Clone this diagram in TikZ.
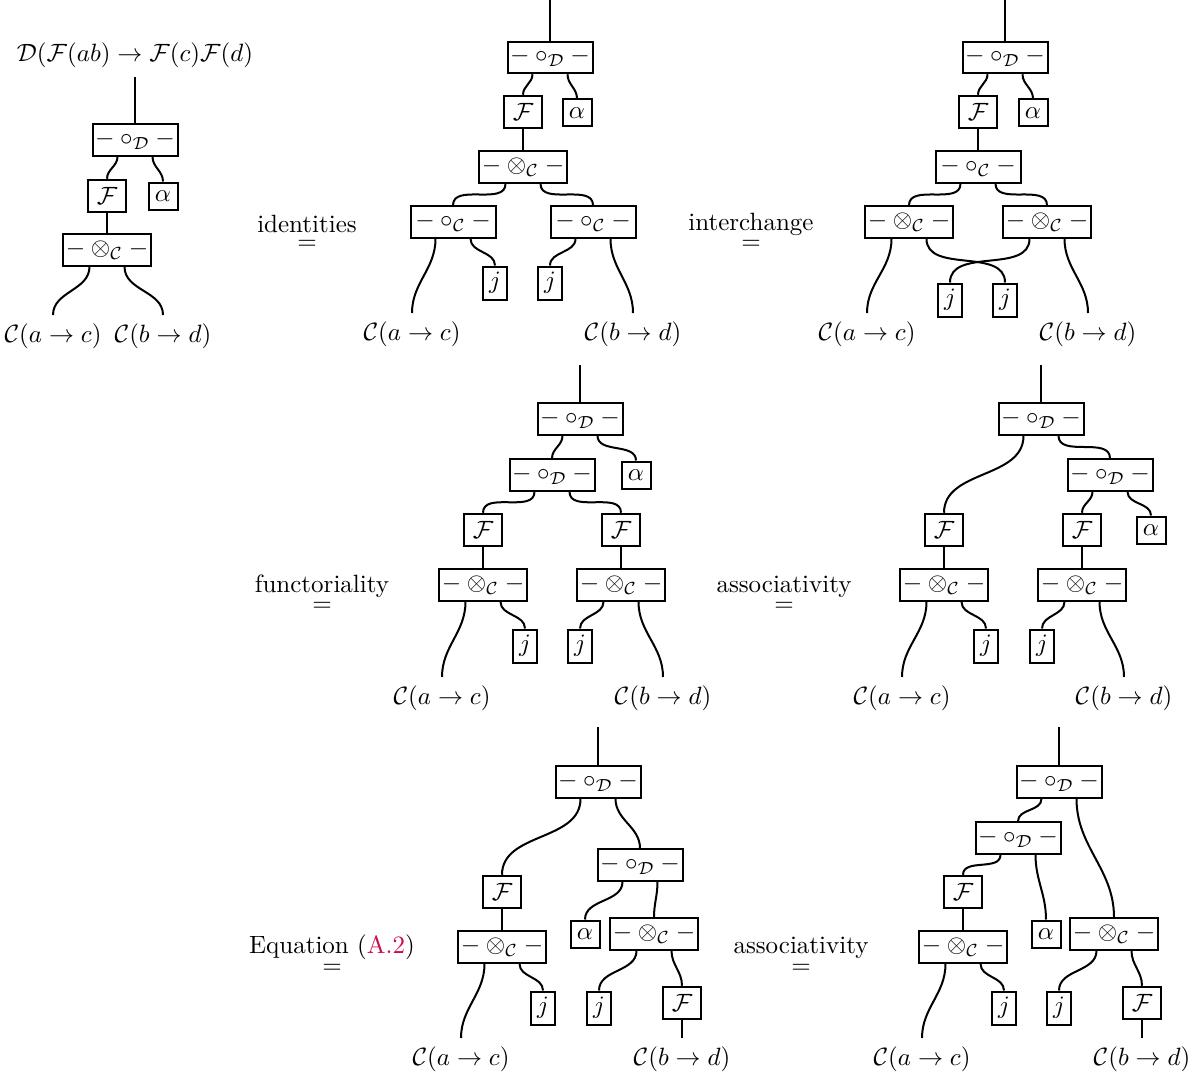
\documentclass[tikz,border=0pt]{standalone}
\usepackage{amsmath, amssymb}
\usepackage{xcolor}
\usepackage{tikz}
\usetikzlibrary{positioning}
\definecolor{linkred}{rgb}{0.8,0.05,0.3}
\newcommand{\compD}{$-\circ_{\mathcal{D}}-$}
\newcommand{\compC}{$-\circ_{\mathcal{C}}-$}
\newcommand{\tensC}{$-\otimes_{\mathcal{C}}-$}
\tikzset{
    wire/.style={thick, out=-90, in=90},
    opbox/.style={rectangle, draw=black, thick, fill=white, minimum width=34pt, minimum height=12.6pt, inner sep=1pt},
    funbox/.style={rectangle, draw=black, thick, fill=white, minimum width=15pt, minimum height=13pt, inner sep=1pt},
    natbox/.style={rectangle, draw=black, thick, fill=white, minimum width=11.6pt, minimum height=10.8pt, inner sep=1pt},
    unitbox/.style={rectangle, draw=black, thick, fill=white, minimum width=9.6pt, minimum height=13.2pt, inner sep=1pt},
    hom/.style={anchor=north},
    eqlabel/.style={anchor=base, align=center, inner sep=0pt},
    eqsign/.style={inner sep=0pt}
}
\begin{document}
\begin{tikzpicture}[x=0.4pt, y=-0.4pt]
        \useasboundingbox (0,0) rectangle (1199,1072);

        % Left-hand side
        \node[anchor=south] (top1) at (135,77) {$\mathcal{D}(\mathcal{F}(ab)\to\mathcal{F}(c)\mathcal{F}(d)$};
        \node[opbox] (a1) at (135,140) {\compD};
        \node[funbox] (a2) at (107,196) {$\mathcal{F}$};
        \node[natbox] (a3) at (163,196) {$\alpha$};
        \node[opbox] (a4) at (107,250) {\tensC};
        \node[hom] (a5) at (53,315) {$\mathcal{C}(a\to c)$};
        \node[hom] (a6) at (163,315) {$\mathcal{C}(b\to d)$};
        \draw[thick] (top1) -- (a1);
        \draw[wire] ([xshift=-7pt]a1.south) to (a2.north);
        \draw[wire] ([xshift=7pt]a1.south) to (a3.north);
        \draw[thick] (a2) -- (a4);
        \draw[wire] ([xshift=-7pt]a4.south) to (a5.north);
        \draw[wire] ([xshift=7pt]a4.south) to (a6.north);

        % identities
        \node[eqlabel] (l1) at (307,232) {identities};
        \node[eqsign] (e1) at (307,245) {$=$};
        \coordinate (b0) at (550,0);
        \node[opbox] (b1) at (550,57.5) {\compD};
        \node[funbox] (b2) at (523,112) {$\mathcal{F}$};
        \node[natbox] (b3) at (577,113) {$\alpha$};
        \node[opbox] (b4) at (523,167) {\tensC};
        \node[opbox] (b5) at (453,222) {\compC};
        \node[opbox] (b6) at (593,222) {\compC};
        \node[unitbox] (b7) at (495,283) {$j$};
        \node[unitbox] (b8) at (550,283) {$j$};
        \node[hom] (b9) at (412,313) {$\mathcal{C}(a\to c)$};
        \node[hom] (b10) at (633,313) {$\mathcal{C}(b\to d)$};
        \draw[thick] (b0) -- (b1);
        \draw[wire] ([xshift=-7pt]b1.south) to (b2.north);
        \draw[wire] ([xshift=7pt]b1.south) to (b3.north);
        \draw[thick] (b2) -- (b4);
        \draw[wire] ([xshift=-7pt]b4.south) to (b5.north);
        \draw[wire] ([xshift=7pt]b4.south) to (b6.north);
        \draw[wire] ([xshift=-7pt]b5.south) to (b9.north);
        \draw[wire] ([xshift=7pt]b5.south) to (b7.north);
        \draw[wire] ([xshift=-7pt]b6.south) to (b8.north);
        \draw[wire] ([xshift=7pt]b6.south) to (b10.north);

        % interchange
        \node[eqlabel] (l2) at (751,230) {interchange};
        \node[eqsign] (e2) at (751,245) {$=$};
        \coordinate (c0) at (1005,0);
        \node[opbox] (c1) at (1005,57.5) {\compD};
        \node[funbox] (c2) at (978,112) {$\mathcal{F}$};
        \node[natbox] (c3) at (1033,113) {$\alpha$};
        \node[opbox] (c4) at (978,167) {\compC};
        \node[opbox] (c5) at (909,222) {\tensC};
        \node[opbox] (c6) at (1047,222) {\tensC};
        \node[unitbox] (c7) at (950,300) {$j$};
        \node[unitbox] (c8) at (1005,300) {$j$};
        \node[hom] (c9) at (867,313) {$\mathcal{C}(a\to c)$};
        \node[hom] (c10) at (1088,313) {$\mathcal{C}(b\to d)$};
        \draw[thick] (c0) -- (c1);
        \draw[wire] ([xshift=-7pt]c1.south) to (c2.north);
        \draw[wire] ([xshift=7pt]c1.south) to (c3.north);
        \draw[thick] (c2) -- (c4);
        \draw[wire] ([xshift=-7pt]c4.south) to (c5.north);
        \draw[wire] ([xshift=7pt]c4.south) to (c6.north);
        \draw[wire] ([xshift=-7pt]c5.south) to (c9.north);
        \draw[wire] ([xshift=7pt]c5.south) to (c8.north);
        \draw[wire] ([xshift=-7pt]c6.south) to (c7.north);
        \draw[wire] ([xshift=7pt]c6.south) to (c10.north);

        % functoriality
        \node[eqlabel] (l3) at (322,592) {functoriality};
        \node[eqsign] (e3) at (322,607) {$=$};
        \coordinate (d0) at (580,365);
        \node[opbox] (d1) at (580,419) {\compD};
        \node[opbox] (d2) at (552,475) {\compD};
        \node[natbox] (d3) at (636,475) {$\alpha$};
        \node[funbox] (d4) at (483,530) {$\mathcal{F}$};
        \node[funbox] (d5) at (621,530) {$\mathcal{F}$};
        \node[opbox] (d6) at (483,585) {\tensC};
        \node[opbox] (d7) at (621,585) {\tensC};
        \node[unitbox] (d8) at (525,646) {$j$};
        \node[unitbox] (d9) at (580,646) {$j$};
        \node[hom] (d10) at (442,677) {$\mathcal{C}(a\to c)$};
        \node[hom] (d11) at (663,677) {$\mathcal{C}(b\to d)$};
        \draw[thick] (d0) -- (d1);
        \draw[wire] ([xshift=-7pt]d1.south) to (d2.north);
        \draw[wire] ([xshift=7pt]d1.south) to (d3.north);
        \draw[wire] ([xshift=-7pt]d2.south) to (d4.north);
        \draw[wire] ([xshift=7pt]d2.south) to (d5.north);
        \draw[thick] (d4) -- (d6);
        \draw[thick] (d5) -- (d7);
        \draw[wire] ([xshift=-7pt]d6.south) to (d10.north);
        \draw[wire] ([xshift=7pt]d6.south) to (d8.north);
        \draw[wire] ([xshift=-7pt]d7.south) to (d9.north);
        \draw[wire] ([xshift=7pt]d7.south) to (d11.north);

        % associativity
        \node[eqlabel] (l4) at (784,592) {associativity};
        \node[eqsign] (e4) at (784,607) {$=$};
        \coordinate (f0) at (1041,365);
        \node[opbox] (f1) at (1041,419) {\compD};
        \node[opbox] (f2) at (1110,475) {\compD};
        \node[funbox] (f3) at (944,530) {$\mathcal{F}$};
        \node[funbox] (f4) at (1082,530) {$\mathcal{F}$};
        \node[natbox] (f5) at (1151,530) {$\alpha$};
        \node[opbox] (f6) at (944,585) {\tensC};
        \node[opbox] (f7) at (1082,585) {\tensC};
        \node[unitbox] (f8) at (986,646) {$j$};
        \node[unitbox] (f9) at (1042,646) {$j$};
        \node[hom] (f10) at (902,677) {$\mathcal{C}(a\to c)$};
        \node[hom] (f11) at (1124,677) {$\mathcal{C}(b\to d)$};
        \draw[thick] (f0) -- (f1);
        \draw[wire] ([xshift=-7pt]f1.south) to (f3.north);
        \draw[wire] ([xshift=7pt]f1.south) to (f2.north);
        \draw[wire] ([xshift=-7pt]f2.south) to (f4.north);
        \draw[wire] ([xshift=7pt]f2.south) to (f5.north);
        \draw[thick] (f3) -- (f6);
        \draw[thick] (f4) -- (f7);
        \draw[wire] ([xshift=-7pt]f6.south) to (f10.north);
        \draw[wire] ([xshift=7pt]f6.south) to (f8.north);
        \draw[wire] ([xshift=-7pt]f7.south) to (f9.north);
        \draw[wire] ([xshift=7pt]f7.south) to (f11.north);

        % Equation (A.2)
        \node[eqlabel] (l5) at (332,953) {Equation (\textcolor{linkred}{A.2})};
        \node[eqsign] (e5) at (332,969) {$=$};
        \coordinate (g0) at (598,727);
        \node[opbox] (g1) at (598,782) {\compD};
        \node[opbox] (g2) at (640,865) {\compD};
        \node[funbox] (g3) at (502,892) {$\mathcal{F}$};
        \node[opbox] (g4) at (502,947) {\tensC};
        \node[natbox] (g5) at (585,934) {$\alpha$};
        \node[opbox] (g6) at (654,934) {\tensC};
        \node[unitbox] (g7) at (543,1008) {$j$};
        \node[unitbox] (g8) at (599,1008) {$j$};
        \node[funbox] (g9) at (682,1003) {$\mathcal{F}$};
        \node[hom] (g10) at (461,1038) {$\mathcal{C}(a\to c)$};
        \node[hom] (g11) at (682,1038) {$\mathcal{C}(b\to d)$};
        \draw[thick] (g0) -- (g1);
        \draw[wire] ([xshift=-7pt]g1.south) to (g3.north);
        \draw[wire] ([xshift=7pt]g1.south) to (g2.north);
        \draw[wire] ([xshift=-7pt]g2.south) to (g5.north);
        \draw[wire] ([xshift=7pt]g2.south) to (g6.north);
        \draw[thick] (g3) -- (g4);
        \draw[wire] ([xshift=-7pt]g4.south) to (g10.north);
        \draw[wire] ([xshift=7pt]g4.south) to (g7.north);
        \draw[wire] ([xshift=-7pt]g6.south) to (g8.north);
        \draw[wire] ([xshift=7pt]g6.south) to (g9.north);
        \draw[thick] (g9) -- (g11.north);

        % associativity again
        \node[eqlabel] (l6) at (801,953) {associativity};
        \node[eqsign] (e6) at (801,969) {$=$};
        \coordinate (h0) at (1059,727);
        \node[opbox] (h1) at (1059,782) {\compD};
        \node[opbox] (h2) at (1018,838) {\compD};
        \node[funbox] (h3) at (963,892) {$\mathcal{F}$};
        \node[opbox] (h4) at (963,947) {\tensC};
        \node[natbox] (h5) at (1046,934) {$\alpha$};
        \node[opbox] (h6) at (1114,934) {\tensC};
        \node[unitbox] (h7) at (1004,1008) {$j$};
        \node[unitbox] (h8) at (1059,1008) {$j$};
        \node[funbox] (h9) at (1142,1003) {$\mathcal{F}$};
        \node[hom] (h10) at (922,1038) {$\mathcal{C}(a\to c)$};
        \node[hom] (h11) at (1142,1038) {$\mathcal{C}(b\to d)$};
        \draw[thick] (h0) -- (h1);
        \draw[wire] ([xshift=-7pt]h1.south) to (h2.north);
        \draw[wire] ([xshift=7pt]h1.south) to (h6.north);
        \draw[wire] ([xshift=-7pt]h2.south) to (h3.north);
        \draw[wire] ([xshift=7pt]h2.south) to (h5.north);
        \draw[thick] (h3) -- (h4);
        \draw[wire] ([xshift=-7pt]h4.south) to (h10.north);
        \draw[wire] ([xshift=7pt]h4.south) to (h7.north);
        \draw[wire] ([xshift=-7pt]h6.south) to (h8.north);
        \draw[wire] ([xshift=7pt]h6.south) to (h9.north);
        \draw[thick] (h9) -- (h11.north);
    \end{tikzpicture}
\end{document}
